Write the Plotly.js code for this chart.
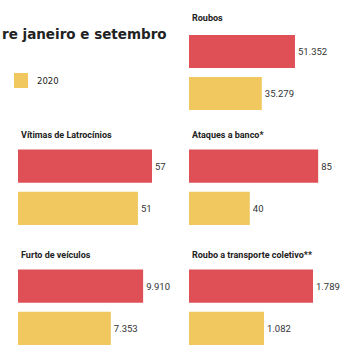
<!DOCTYPE html>
<html>
<head>
<meta charset="utf-8">
<script src="https://cdn.plot.ly/plotly-3.0.1.min.js"></script>
<style>html,body{margin:0;padding:0;background:#fff;}#chart{width:356px;height:364px;}</style>
</head>
<body>
<div id="chart"></div>
<script>
const years = ["2019", "2020"];
const panelTitles = ["Roubos", "Vítimas de Latrocínios", "Ataques a banco*", "Furto de veículos", "Roubo a transporte coletivo**"];
const roubos = [51352, 35279];
const latrocinios = [57, 51];
const ataquesBanco = [85, 40];
const furtoVeiculos = [9910, 7353];
const transporteColetivo = [1789, 1082];
const axisMax = [72700, 63.8, 98.7, 11880, 2164];
const mainTitle = "re janeiro e setembro";
const legendLabel = "2020";

const colors = ["#df4f56", "#f1c85f"];
const series = [roubos, latrocinios, ataquesBanco, furtoVeiculos, transporteColetivo];

const W = 356, H = 364;
const col1 = [18 / W, 168 / W], col2 = [189 / W, 339 / W];
const row1 = [1 - 114.5 / H, 1 - 30.5 / H];
const row2 = [1 - 229.5 / H, 1 - 145 / H];
const row3 = [1 - 349.5 / H, 1 - 265 / H];
const panels = [[col2, row1], [col1, row2], [col2, row2], [col1, row3], [col2, row3]];
const titleY = [18, 135, 135, 255, 255];
const titleX = [190, 19, 190, 19, 190];

const data = [];
const layout = {
  width: W, height: H,
  margin: {l: 0, r: 0, t: 0, b: 0},
  paper_bgcolor: "#fff", plot_bgcolor: "#fff",
  showlegend: false,
  separators: ",.",
  font: {family: "Roboto, Arial, sans-serif", color: "#333"},
  annotations: [],
  shapes: []
};

series.forEach((vals, i) => {
  const n = i + 1;
  const xa = n === 1 ? "x" : "x" + n;
  const ya = n === 1 ? "y" : "y" + n;
  data.push({
    type: "bar",
    orientation: "h",
    y: years,
    x: vals,
    xaxis: xa, yaxis: ya,
    marker: {color: colors},
    width: 0.79,
    text: vals.map(v => v.toLocaleString("pt-BR")),
    textposition: "outside",
    constraintext: "none",
    cliponaxis: false,
    textfont: {family: "Roboto, Arial, sans-serif", size: 9.5, color: "#333"},
    hoverinfo: "none"
  });
  const xk = n === 1 ? "xaxis" : "xaxis" + n;
  const yk = n === 1 ? "yaxis" : "yaxis" + n;
  layout[xk] = {domain: panels[i][0], range: [0, axisMax[i]], visible: false, fixedrange: true, anchor: ya};
  layout[yk] = {domain: panels[i][1], range: [1.5, -0.5], type: "category", visible: false, fixedrange: true, anchor: xa};
  layout.annotations.push({
    text: "<b>" + panelTitles[i] + "</b>",
    xref: "paper", yref: "paper",
    x: titleX[i] / W, y: 1 - titleY[i] / H,
    xanchor: "left", yanchor: "middle",
    showarrow: false,
    font: {family: "Roboto, Arial, sans-serif", size: 9, color: "#222"}
  });
});

layout.annotations.push({
  text: "<b>" + mainTitle + "</b>",
  xref: "paper", yref: "paper",
  x: 0, y: 1 - 34 / H,
  xanchor: "left", yanchor: "middle",
  showarrow: false,
  font: {family: "DejaVu Sans, sans-serif", size: 13.5, color: "#222"}
});
layout.shapes.push({
  type: "rect", xref: "paper", yref: "paper",
  x0: 14 / W, x1: 28 / W, y0: 1 - 88 / H, y1: 1 - 73 / H,
  fillcolor: colors[1], line: {width: 0}
});
layout.annotations.push({
  text: legendLabel,
  xref: "paper", yref: "paper",
  x: 35 / W, y: 1 - 80.5 / H,
  xanchor: "left", yanchor: "middle",
  showarrow: false,
  font: {family: "DejaVu Sans, sans-serif", size: 8.5, color: "#222"}
});

Plotly.newPlot("chart", data, layout, {staticPlot: true, displayModeBar: false});
</script>
</body>
</html>
